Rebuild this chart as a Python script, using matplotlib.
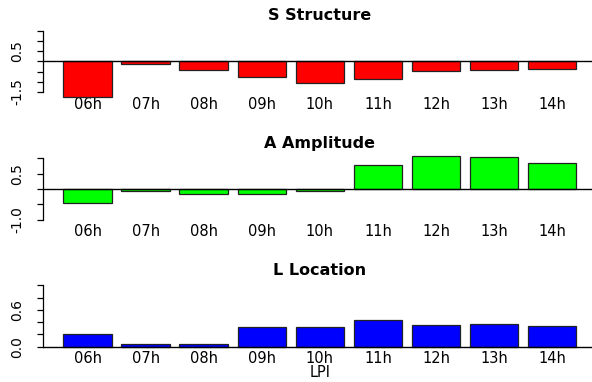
import matplotlib
matplotlib.use("Agg")
import matplotlib.pyplot as plt
import numpy as np

hours = ["06h", "07h", "08h", "09h", "10h", "11h", "12h", "13h", "14h"]
S_structure = [-1.73, -0.12, -0.42, -0.75, -1.07, -0.85, -0.49, -0.42, -0.38]
A_amplitude = [-0.47, -0.05, -0.17, -0.17, -0.08, 0.77, 1.07, 1.04, 0.85]
L_location = [0.21, 0.05, 0.05, 0.32, 0.32, 0.44, 0.36, 0.37, 0.335]

titles = ["S Structure", "A Amplitude", "L Location"]
colors = ["#FF0000", "#00FF00", "#0000FF"]
series = [S_structure, A_amplitude, L_location]
ylims = [(-1.62, 1.62), (-1.08, 1.08), (-0.04, 1.04)]
yticks = [np.arange(-1.5, 1.51, 0.5), np.arange(-1.0, 1.01, 0.5), np.arange(0.0, 1.01, 0.2)]
ylabels_show = [{0.5: "0.5", -1.5: "-1.5"}, {0.5: "0.5", -1.0: "-1.0"}, {0.0: "0.0", 0.6: "0.6"}]

plt.rcParams['font.family'] = ['DejaVu Sans']

W, H = 592, 382
fig = plt.figure(figsize=(W / 100, H / 100), dpi=100)

left_px, right_px = 42.8, 596.9
tops_px = [28.1, 155.8, 282.8]
h_px = 66.4

x = 0.7 + 1.2 * np.arange(len(hours))

for i in range(3):
    ax = fig.add_axes([left_px / W, 1 - (tops_px[i] + h_px) / H,
                       (right_px - left_px) / W, h_px / H])
    ax.bar(x, series[i], width=1.0, color=colors[i], edgecolor="#222222",
           linewidth=0.9, clip_on=False, zorder=2)
    ax.axhline(0, color="black", linewidth=1.0, zorder=3)
    ax.set_xlim(-0.224, 11.224)
    ax.set_ylim(*ylims[i])
    for s in ["top", "right", "bottom"]:
        ax.spines[s].set_visible(False)
    ax.spines["left"].set_bounds(yticks[i][0], yticks[i][-1])
    ax.spines["left"].set_linewidth(0.9)
    ax.set_yticks(yticks[i])
    labs = []
    for t in yticks[i]:
        key = round(float(t), 2)
        labs.append(ylabels_show[i].get(key, ""))
    ax.set_yticklabels(labs, rotation=90, va="center", fontsize=10)
    ax.tick_params(axis="y", length=4.2, width=0.9, pad=9.0)
    ax.set_xticks(x)
    ax.set_xticklabels(hours, fontsize=10.5)
    ax.tick_params(axis="x", length=0, pad=1.5)
    ax.patch.set_alpha(0)
    ax.text(0.5, 1 + 12.7 / h_px, titles[i], transform=ax.transAxes,
            ha="center", va="center", fontsize=11.5, fontweight="bold")
    if i == 2:
        ax.set_xlabel("LPI", fontsize=10.5, labelpad=-1.0)

fig.savefig("out.png", dpi=100)
